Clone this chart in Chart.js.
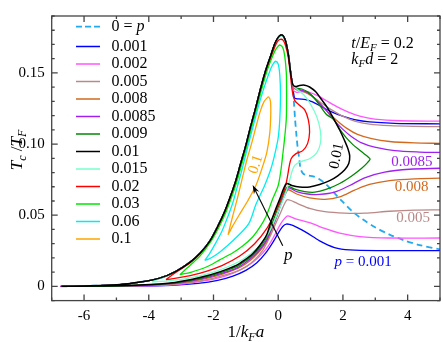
<!DOCTYPE html>
<html>
<head>
<meta charset="utf-8">
<script src="https://cdn.jsdelivr.net/npm/chart.js"></script>
<style>
  html,body{margin:0;padding:0;background:#fff;}
  canvas{display:block;}
</style>
</head>
<body>
<canvas id="tc" width="443" height="342"></canvas>
<script>
// ---- data: [1/kFa, Tc/TF] ----
// shared upper-left side of the big peak (p <= 0.01)
const envelope=[[-6.7,0],[-6.0,0.0003],[-4.98,0.0011],[-4.27,0.003],[-3.66,0.0058],[-3.19,0.0102],[-2.73,0.0169],[-2.42,0.0232],[-2.11,0.032],[-1.87,0.0421],[-1.65,0.0528],[-1.47,0.0636],[-1.31,0.0743],[-1.16,0.0864],[-1.0,0.0991],[-0.85,0.1126],[-0.69,0.126],[-0.54,0.1394],[-0.39,0.1515],[-0.23,0.1622],[-0.11,0.1703],[0,0.175],[0.08,0.1766],[0.15,0.1761],[0.23,0.1723],[0.31,0.1636],[0.37,0.1528],[0.42,0.1448]];

const p0Tail=[[0.46,0.1367],[0.49,0.128],[0.52,0.1179],[0.56,0.1072],[0.60,0.0978],[0.65,0.0897],[0.69,0.083],[0.77,0.0793],[0.91,0.078],[1.08,0.0773],[1.25,0.0756],[1.47,0.0719],[1.71,0.0662],[1.99,0.0595],[2.30,0.0525],[2.61,0.0471],[2.98,0.0417],[3.44,0.0364],[3.90,0.0323],[4.37,0.029],[5.0,0.026]];

const p001Lower=[[5.0,0.0251],[3.13,0.0251],[2.21,0.0256],[1.74,0.0273],[1.28,0.032],[0.85,0.0381],[0.45,0.0428],[0.25,0.0438],[0.14,0.0421],[0.02,0.0381],[-0.17,0.0307],[-0.39,0.0233],[-0.66,0.0166],[-1.0,0.0112],[-1.40,0.0072],[-1.87,0.0042],[-2.48,0.0021],[-3.29,0.0008],[-4.27,0.0002]];
const p001Upper=[[0.46,0.1381],[0.51,0.1323],[0.63,0.1317],[0.85,0.1313],[1.06,0.1297],[1.34,0.1263],[1.65,0.1226],[1.99,0.1196],[2.36,0.1172],[2.82,0.1156],[3.60,0.1146],[5.0,0.1142]];

const p002Lower=[[5.0,0.034],[3.44,0.034],[2.52,0.035],[1.90,0.0374],[1.44,0.0407],[0.97,0.0448],[0.54,0.0474],[0.30,0.0495],[0.2,0.0478],[0.08,0.0441],[-0.11,0.036],[-0.32,0.028],[-0.63,0.0199],[-1.0,0.0136],[-1.41,0.0092],[-1.87,0.0058],[-2.48,0.0032],[-3.26,0.0011],[-4.27,0.0003]];
const p002Upper=[[0.45,0.1381],[0.57,0.1364],[0.79,0.137],[0.97,0.1364],[1.22,0.134],[1.50,0.1303],[1.81,0.1263],[2.15,0.1226],[2.52,0.1196],[2.98,0.1176],[3.75,0.1164],[5.0,0.1161]];

const p005Lower=[[5.0,0.0538],[4.21,0.0536],[3.44,0.0528],[2.67,0.0515],[2.05,0.0515],[1.44,0.0525],[0.97,0.0548],[0.60,0.0582],[0.29,0.0609],[0.2,0.0582],[0.08,0.0521],[-0.08,0.0441],[-0.26,0.0347],[-0.48,0.0253],[-0.73,0.0186],[-0.97,0.0142],[-1.25,0.0109],[-1.77,0.0072],[-2.39,0.0038],[-3.16,0.0016],[-4.27,0.0005]];
const p005Upper=[[0.46,0.1401],[0.60,0.1377],[0.82,0.1364],[1.06,0.1334],[1.34,0.1287],[1.65,0.124],[1.99,0.1196],[2.36,0.1162],[2.82,0.114],[3.44,0.1129],[4.21,0.1124],[5.0,0.1122]];

const p008Lower=[[5.0,0.076],[4.21,0.0756],[3.44,0.0743],[2.82,0.0716],[2.36,0.0676],[1.90,0.0629],[1.44,0.0612],[0.97,0.0622],[0.57,0.0649],[0.31,0.0679],[0.22,0.0649],[0.09,0.0582],[-0.05,0.0488],[-0.2,0.0401],[-0.35,0.032],[-0.54,0.0256],[-0.76,0.0203],[-1.0,0.0159],[-1.25,0.0126],[-1.77,0.0083],[-2.39,0.0048],[-3.16,0.0021],[-4.27,0.0006]];
const p008Upper=[[0.46,0.1404],[0.60,0.1381],[0.82,0.1367],[1.03,0.134],[1.28,0.1287],[1.53,0.1226],[1.81,0.1166],[2.11,0.1112],[2.45,0.1068],[2.89,0.1038],[3.44,0.1018],[4.21,0.1008],[5.0,0.1005]];

const p0085Lower=[[5.0,0.083],[4.06,0.0823],[3.29,0.0803],[2.67,0.0763],[2.21,0.0709],[1.74,0.0662],[1.28,0.0646],[0.91,0.0649],[0.57,0.0666],[0.32,0.0693],[0.23,0.0659],[0.11,0.0595],[-0.03,0.0501],[-0.19,0.0414],[-0.34,0.0334],[-0.54,0.0266],[-0.76,0.0213],[-1.0,0.0169],[-1.25,0.0132],[-1.77,0.0089],[-2.39,0.0052],[-3.16,0.0023],[-4.27,0.0007]];
const p0085Upper=[[0.46,0.1407],[0.60,0.1384],[0.79,0.1374],[0.97,0.1354],[1.22,0.13],[1.47,0.124],[1.71,0.1172],[1.99,0.1105],[2.27,0.1052],[2.58,0.1008],[2.98,0.0978],[3.60,0.0954],[4.37,0.0944],[5.0,0.0941]];

// 0.009 closes on the right at 1/kFa ~ 2.8
const p009Rest=[[0.46,0.1411],[0.57,0.1394],[0.73,0.1387],[0.91,0.1367],[1.10,0.1327],[1.28,0.1273],[1.50,0.1206],[1.71,0.1175],[1.90,0.1105],[2.10,0.1045],[2.30,0.0998],[2.50,0.096],[2.66,0.0931],[2.78,0.0909],[2.84,0.0894],[2.76,0.087],[2.58,0.083],[2.27,0.0776],[1.90,0.0723],[1.50,0.0683],[1.13,0.0662],[0.82,0.0666],[0.51,0.0683],[0.31,0.0703],[0.2,0.0669],[0.08,0.0602],[-0.05,0.0528],[-0.2,0.0434],[-0.35,0.0347],[-0.57,0.0273],[-0.79,0.0219],[-1.03,0.0176],[-1.28,0.0139],[-1.81,0.0095],[-2.42,0.0056],[-3.19,0.0025],[-4.27,0.0008],[-5.5,0.0001],[-6.7,0]];

const p01Rest=[[0.46,0.1414],[0.54,0.1404],[0.66,0.1412],[0.82,0.1414],[0.97,0.1401],[1.16,0.1367],[1.34,0.1313],[1.53,0.1253],[1.71,0.1179],[1.90,0.1099],[2.05,0.1025],[2.16,0.0964],[2.21,0.0917],[2.18,0.0864],[2.05,0.0817],[1.84,0.0777],[1.59,0.0743],[1.28,0.0716],[0.97,0.0699],[0.66,0.0699],[0.42,0.0709],[0.26,0.0723],[0.17,0.0689],[0.05,0.0615],[-0.08,0.0542],[-0.23,0.0448],[-0.36,0.036],[-0.57,0.0287],[-0.79,0.0229],[-1.03,0.0186],[-1.28,0.0149],[-1.81,0.0102],[-2.42,0.0062],[-3.19,0.0028],[-4.27,0.0009],[-5.5,0.0002],[-6.7,0]];

// closed loops for larger p
const p015Loop=[[-3.90,0.0032],[-3.66,0.0055],[-3.19,0.0099],[-2.73,0.0166],[-2.42,0.023],[-2.11,0.0318],[-1.87,0.0419],[-1.64,0.0526],[-1.46,0.0634],[-1.30,0.0741],[-1.15,0.0862],[-0.99,0.0989],[-0.84,0.1124],[-0.68,0.1258],[-0.53,0.1392],[-0.38,0.1512],[-0.22,0.1616],[-0.10,0.1698],[0,0.1745],[0.08,0.176],[0.16,0.1752],[0.24,0.1712],[0.32,0.1617],[0.38,0.1505],[0.45,0.1414],[0.60,0.1381],[0.79,0.1347],[1.0,0.128],[1.19,0.1193],[1.30,0.1099],[1.31,0.1011],[1.19,0.0938],[0.97,0.0897],[0.69,0.0877],[0.51,0.085],[0.42,0.0803],[0.35,0.0743],[0.26,0.0676],[0.14,0.0602],[-0.05,0.0495],[-0.29,0.038],[-0.63,0.0273],[-1.10,0.0189],[-1.65,0.0129],[-2.27,0.0082],[-2.89,0.0052],[-3.41,0.0038],[-3.90,0.0032]];

const p02Loop=[[-3.47,0.0048],[-3.19,0.0094],[-2.73,0.0164],[-2.41,0.0229],[-2.10,0.0316],[-1.86,0.0417],[-1.64,0.0524],[-1.46,0.0632],[-1.30,0.0739],[-1.15,0.086],[-0.99,0.0987],[-0.84,0.1122],[-0.68,0.1256],[-0.53,0.139],[-0.38,0.1508],[-0.23,0.1605],[-0.11,0.168],[-0.02,0.1722],[0.06,0.1736],[0.15,0.173],[0.23,0.1689],[0.31,0.1609],[0.37,0.1501],[0.43,0.1381],[0.51,0.1307],[0.66,0.1273],[0.82,0.124],[0.93,0.1172],[0.97,0.1085],[0.91,0.1005],[0.76,0.0954],[0.54,0.0931],[0.40,0.0897],[0.34,0.0844],[0.29,0.0777],[0.23,0.0709],[0.11,0.0629],[-0.08,0.0528],[-0.35,0.0407],[-0.73,0.03],[-1.19,0.0213],[-1.74,0.0146],[-2.33,0.0099],[-2.89,0.0068],[-3.29,0.0052],[-3.47,0.0048]];

const p03Loop=[[-3.04,0.0082],[-2.72,0.0148],[-2.40,0.0218],[-2.09,0.0312],[-1.84,0.0413],[-1.62,0.052],[-1.44,0.0628],[-1.28,0.0735],[-1.13,0.0856],[-0.97,0.0983],[-0.82,0.1117],[-0.66,0.1252],[-0.51,0.1386],[-0.36,0.1505],[-0.21,0.1598],[-0.10,0.1655],[0,0.1688],[0.06,0.1696],[0.14,0.1679],[0.20,0.1622],[0.25,0.1501],[0.26,0.1347],[0.25,0.1179],[0.20,0.1045],[0.14,0.0924],[0.08,0.081],[0,0.0709],[-0.17,0.0615],[-0.37,0.0495],[-0.57,0.0414],[-0.79,0.0347],[-1.10,0.0283],[-1.40,0.0236],[-1.81,0.0186],[-2.22,0.0136],[-2.70,0.0099],[-3.04,0.0082]];

const p06Loop=[[-2.27,0.0183],[-2.14,0.0223],[-1.96,0.0293],[-1.74,0.0387],[-1.56,0.0488],[-1.40,0.0589],[-1.27,0.0696],[-1.14,0.0803],[-1.02,0.0911],[-0.90,0.1018],[-0.76,0.1139],[-0.62,0.126],[-0.46,0.1381],[-0.32,0.1475],[-0.22,0.1535],[-0.14,0.1569],[-0.08,0.1582],[0,0.1562],[0.05,0.1481],[0.07,0.1347],[0.05,0.1179],[0,0.1045],[-0.11,0.0924],[-0.23,0.0823],[-0.42,0.0709],[-0.69,0.0575],[-0.91,0.0441],[-1.37,0.0327],[-1.81,0.024],[-2.11,0.0196],[-2.27,0.0183]];

const p1Loop=[[-1.55,0.0362],[-1.48,0.0428],[-1.39,0.0508],[-1.28,0.0602],[-1.17,0.0703],[-1.06,0.0807],[-0.96,0.0897],[-0.83,0.0998],[-0.69,0.1119],[-0.56,0.1226],[-0.45,0.1293],[-0.35,0.1323],[-0.29,0.133],[-0.24,0.13],[-0.23,0.1213],[-0.26,0.1079],[-0.35,0.0944],[-0.51,0.0823],[-0.69,0.0709],[-0.94,0.0602],[-1.19,0.0508],[-1.40,0.0427],[-1.51,0.038],[-1.55,0.0362]];

const legendLabels=['0 = p','0.001','0.002','0.005','0.008','0.0085','0.009','0.01','0.015','0.02','0.03','0.06','0.1'];
const colors=['#22aaee','#0000ff','#ff55ff','#bb8888','#d2691e','#a020f0','#008800','#000000','#77ffcc','#ff0000','#00e600','#00eeee','#ffa500'];
const curves=[
  envelope.concat(p0Tail),
  p001Lower.concat(envelope,p001Upper),
  p002Lower.concat(envelope,p002Upper),
  p005Lower.concat(envelope,p005Upper),
  p008Lower.concat(envelope,p008Upper),
  p0085Lower.concat(envelope,p0085Upper),
  envelope.concat(p009Rest),
  envelope.concat(p01Rest),
  p015Loop,p02Loop,p03Loop,p06Loop,p1Loop
];

const xTicks=[-6,-4,-2,0,2,4];
const xMinor=[-7,-5,-3,-1,1,3,5];
const yTicks=[0,0.05,0.1,0.15];
const yMinor=[-0.01,0.01,0.02,0.03,0.04,0.06,0.07,0.08,0.09,0.11,0.12,0.13,0.14,0.16,0.17,0.18,0.19];

const SERIF="'Liberation Serif', 'Times New Roman', 'DejaVu Serif', serif";

function drawRich(ctx,parts,x,y,size,color,align){
  const fontFor=k=>k==='n'?size+'px '+SERIF:(k==='i'?'italic '+size+'px '+SERIF:'italic '+Math.round(size*0.7)+'px '+SERIF);
  let w=0;
  parts.forEach(p=>{ctx.font=fontFor(p[1]);w+=ctx.measureText(p[0]).width;});
  let cx=align==='center'?x-w/2:x;
  ctx.fillStyle=color;ctx.textBaseline='middle';ctx.textAlign='left';
  parts.forEach(p=>{
    ctx.font=fontFor(p[1]);
    ctx.fillText(p[0],cx,p[1]==='s'?y+size*0.3:y);
    cx+=ctx.measureText(p[0]).width;
  });
}

const decor={
  id:'decor',
  afterDraw(chart){
    const {ctx,chartArea:a,scales:{x,y}}=chart;
    ctx.save();
    // frame + inward ticks on all sides
    ctx.strokeStyle='#444';ctx.lineWidth=1.3;ctx.setLineDash([]);
    ctx.strokeRect(a.left,a.top,a.right-a.left,a.bottom-a.top);
    ctx.beginPath();
    const xt=(v,len)=>{const px=x.getPixelForValue(v);ctx.moveTo(px,a.bottom);ctx.lineTo(px,a.bottom-len);ctx.moveTo(px,a.top);ctx.lineTo(px,a.top+len);};
    const yt=(v,len)=>{const py=y.getPixelForValue(v);ctx.moveTo(a.left,py);ctx.lineTo(a.left+len,py);ctx.moveTo(a.right,py);ctx.lineTo(a.right-len,py);};
    xTicks.forEach(v=>xt(v,6));xMinor.forEach(v=>xt(v,3));
    yTicks.forEach(v=>yt(v,6));yMinor.forEach(v=>yt(v,3));
    ctx.stroke();

    // legend
    legendLabels.forEach((lab,i)=>{
      const ly=i===0?26.7:46.5+17.5*(i-1);
      ctx.beginPath();
      ctx.strokeStyle=colors[i];
      ctx.lineWidth=i===0?1.8:1.5;
      ctx.setLineDash(i===0?[6,3]:[]);
      ctx.moveTo(76,ly);ctx.lineTo(100,ly);ctx.stroke();
      ctx.setLineDash([]);
      if(i===0) drawRich(ctx,[['0 = ','n'],['p','i']],111.5,ly,16,'#000','left');
      else drawRich(ctx,[[lab,'n']],111.5,ly,16,'#000','left');
    });

    // parameters
    drawRich(ctx,[['t','i'],['/','n'],['E','i'],['F','s'],[' = 0.2','n']],x.getPixelForValue(2.26),y.getPixelForValue(0.1705),16,'#000','left');
    drawRich(ctx,[['k','i'],['F','s'],['d','i'],[' = 2','n']],x.getPixelForValue(2.26),y.getPixelForValue(0.1593),16,'#000','left');

    // curve labels
    drawRich(ctx,[['0.0085','n']],x.getPixelForValue(3.49),y.getPixelForValue(0.0877),15,colors[5],'left');
    drawRich(ctx,[['0.008','n']],x.getPixelForValue(3.60),y.getPixelForValue(0.0698),15,colors[4],'left');
    drawRich(ctx,[['0.005','n']],x.getPixelForValue(3.65),y.getPixelForValue(0.0481),15,colors[3],'left');
    drawRich(ctx,[['p','i'],[' = 0.001','n']],x.getPixelForValue(1.74),y.getPixelForValue(0.0172),15,colors[1],'left');

    const rot=(txt,vx,vy,ang,col)=>{
      ctx.save();ctx.translate(x.getPixelForValue(vx),y.getPixelForValue(vy));ctx.rotate(ang);
      drawRich(ctx,[[txt,'n']],0,0,15,col,'center');ctx.restore();
    };
    rot('0.01',1.81,0.0917,-1.36,'#000');
    rot('0.1',-0.69,0.0857,-1.26,colors[12]);

    // arrow towards increasing p
    const x0=x.getPixelForValue(0.14),y0=y.getPixelForValue(0.0285);
    const x1=x.getPixelForValue(-0.79),y1=y.getPixelForValue(0.0713);
    const ang=Math.atan2(y1-y0,x1-x0);
    ctx.strokeStyle='#000';ctx.fillStyle='#000';ctx.lineWidth=1.1;
    ctx.beginPath();ctx.moveTo(x0,y0);ctx.lineTo(x1-5*Math.cos(ang),y1-5*Math.sin(ang));ctx.stroke();
    ctx.beginPath();ctx.moveTo(x1,y1);
    ctx.lineTo(x1-9*Math.cos(ang)+3*Math.sin(ang),y1-9*Math.sin(ang)-3*Math.cos(ang));
    ctx.lineTo(x1-6*Math.cos(ang),y1-6*Math.sin(ang));
    ctx.lineTo(x1-9*Math.cos(ang)-3*Math.sin(ang),y1-9*Math.sin(ang)+3*Math.cos(ang));
    ctx.closePath();ctx.fill();
    drawRich(ctx,[['p','i']],x.getPixelForValue(0.31),y.getPixelForValue(0.0219),17,'#000','center');

    // axis titles
    ctx.save();ctx.translate(18,150);ctx.rotate(-Math.PI/2);
    drawRich(ctx,[['T','i'],['c','s'],[' /','n'],['T','i'],['F','s']],0,0,17,'#000','center');
    ctx.restore();
    drawRich(ctx,[['1/','n'],['k','i'],['F','s'],['a','i']],(a.left+a.right)/2,333,17,'#000','center');
    ctx.restore();
  }
};

function draw(){
  new Chart(document.getElementById('tc'),{
    type:'scatter',
    data:{datasets:curves.map((pts,i)=>({
      label:legendLabels[i],
      data:pts.map(p=>({x:p[0],y:p[1]})),
      showLine:true,
      borderColor:colors[i],
      borderWidth:i===0?1.8:(i===7?1.5:1.3),
      borderDash:i===0?[6,4]:[],
      pointRadius:0,
      tension:0.3,
      // later curves on top, but the p = 0.01 curve drawn over everything
      order:i===7?-100:-i
    }))},
    options:{
      responsive:false,
      animation:false,
      devicePixelRatio:1,
      layout:{padding:{top:2.6,right:3,left:0,bottom:0}},
      plugins:{legend:{display:false},tooltip:{enabled:false}},
      scales:{
        x:{type:'linear',min:-7,max:5,
          afterBuildTicks:s=>{s.ticks=xTicks.map(v=>({value:v}));},
          afterFit:s=>{s.height=41.4;},
          grid:{display:false,drawTicks:false},border:{display:false},
          ticks:{padding:6,color:'#000',font:{family:SERIF,size:15}}},
        y:{type:'linear',min:-0.01,max:0.19,
          afterBuildTicks:s=>{s.ticks=yTicks.map(v=>({value:v}));},
          afterFit:s=>{s.width=51.7;},
          grid:{display:false,drawTicks:false},border:{display:false},
          ticks:{padding:7,color:'#000',font:{family:SERIF,size:15}}}
      }
    },
    plugins:[decor]
  });
}

const fontsReady=document.fonts?Promise.all([
  document.fonts.load("15px 'Liberation Serif'"),
  document.fonts.load("italic 15px 'Liberation Serif'")
]):Promise.resolve();
fontsReady.then(draw,draw);
</script>
</body>
</html>
